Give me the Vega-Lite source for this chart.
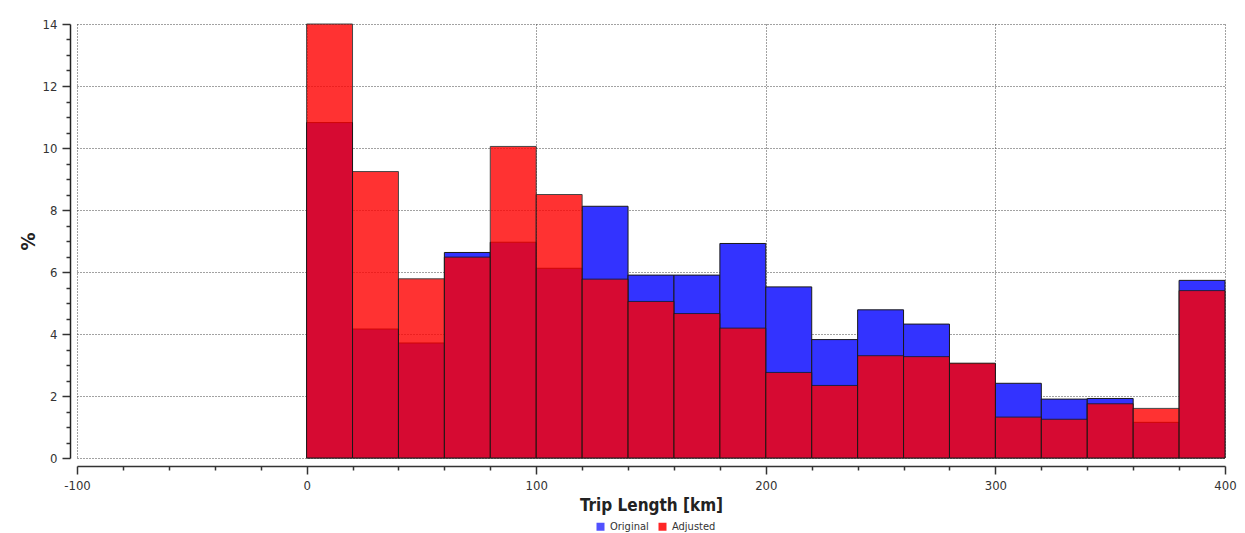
{
  "$schema": "https://vega.github.io/schema/vega-lite/v6.json",
  "width": 1148,
  "height": 434,
  "autosize": {"type": "none"},
  "padding": {"left": 77, "top": 24, "right": 20, "bottom": 75},
  "background": "white",
  "config": {"view": {"stroke": null}, "font": "DejaVu Sans Condensed, Liberation Sans, sans-serif"},
  "data": {"values": [
    {"start": 0, "end": 20, "series": "Original", "pct": 10.82},
    {"start": 20, "end": 40, "series": "Original", "pct": 4.16},
    {"start": 40, "end": 60, "series": "Original", "pct": 3.71},
    {"start": 60, "end": 80, "series": "Original", "pct": 6.63},
    {"start": 80, "end": 100, "series": "Original", "pct": 6.96},
    {"start": 100, "end": 120, "series": "Original", "pct": 6.12},
    {"start": 120, "end": 140, "series": "Original", "pct": 8.12},
    {"start": 140, "end": 160, "series": "Original", "pct": 5.9},
    {"start": 160, "end": 180, "series": "Original", "pct": 5.9},
    {"start": 180, "end": 200, "series": "Original", "pct": 6.92},
    {"start": 200, "end": 220, "series": "Original", "pct": 5.52},
    {"start": 220, "end": 240, "series": "Original", "pct": 3.82},
    {"start": 240, "end": 260, "series": "Original", "pct": 4.78},
    {"start": 260, "end": 280, "series": "Original", "pct": 4.32},
    {"start": 280, "end": 300, "series": "Original", "pct": 3.04},
    {"start": 300, "end": 320, "series": "Original", "pct": 2.41},
    {"start": 320, "end": 340, "series": "Original", "pct": 1.9},
    {"start": 340, "end": 360, "series": "Original", "pct": 1.92},
    {"start": 360, "end": 380, "series": "Original", "pct": 1.15},
    {"start": 380, "end": 400, "series": "Original", "pct": 5.73},
    {"start": 0, "end": 20, "series": "Adjusted", "pct": 14.0},
    {"start": 20, "end": 40, "series": "Adjusted", "pct": 9.24},
    {"start": 40, "end": 60, "series": "Adjusted", "pct": 5.78},
    {"start": 60, "end": 80, "series": "Adjusted", "pct": 6.48},
    {"start": 80, "end": 100, "series": "Adjusted", "pct": 10.05},
    {"start": 100, "end": 120, "series": "Adjusted", "pct": 8.5},
    {"start": 120, "end": 140, "series": "Adjusted", "pct": 5.77},
    {"start": 140, "end": 160, "series": "Adjusted", "pct": 5.05},
    {"start": 160, "end": 180, "series": "Adjusted", "pct": 4.66},
    {"start": 180, "end": 200, "series": "Adjusted", "pct": 4.19},
    {"start": 200, "end": 220, "series": "Adjusted", "pct": 2.76},
    {"start": 220, "end": 240, "series": "Adjusted", "pct": 2.34},
    {"start": 240, "end": 260, "series": "Adjusted", "pct": 3.3},
    {"start": 260, "end": 280, "series": "Adjusted", "pct": 3.27},
    {"start": 280, "end": 300, "series": "Adjusted", "pct": 3.06},
    {"start": 300, "end": 320, "series": "Adjusted", "pct": 1.32},
    {"start": 320, "end": 340, "series": "Adjusted", "pct": 1.25},
    {"start": 340, "end": 360, "series": "Adjusted", "pct": 1.75},
    {"start": 360, "end": 380, "series": "Adjusted", "pct": 1.6},
    {"start": 380, "end": 400, "series": "Adjusted", "pct": 5.4}
  ]},
  "encoding": {
    "x": {
      "field": "start", "type": "quantitative",
      "scale": {"domain": [-100, 400], "nice": false, "zero": false},
      "axis": {
        "values": [-100,-80,-60,-40,-20,0,20,40,60,80,100,120,140,160,180,200,220,240,260,280,300,320,340,360,380,400],
        "labelExpr": "datum.value % 100 === 0 ? '' + datum.value : ''",
        "tickSize": {"condition": {"test": "datum.value % 100 === 0", "value": 8}, "value": 4},
        "gridOpacity": {"condition": {"test": "datum.value % 100 === 0", "value": 1}, "value": 0},
        "grid": true, "gridColor": "#444", "gridDash": [1, 2],
        "offset": 8, "domainColor": "#333", "domainWidth": 1.5,
        "tickColor": "#333", "tickWidth": 1.5,
        "labelFontSize": 13, "labelColor": "#333", "labelPadding": 5, "labelFlush": false,
        "title": "Trip Length [km]", "titleFontSize": 17, "titleFontWeight": "bold",
        "titleColor": "#222", "titlePadding": 5
      }
    },
    "x2": {"field": "end"},
    "y": {
      "field": "pct", "type": "quantitative", "stack": null,
      "scale": {"domain": [0, 14], "nice": false},
      "axis": {
        "values": [0,0.5,1,1.5,2,2.5,3,3.5,4,4.5,5,5.5,6,6.5,7,7.5,8,8.5,9,9.5,10,10.5,11,11.5,12,12.5,13,13.5,14],
        "labelExpr": "datum.value % 2 === 0 ? '' + datum.value : ''",
        "tickSize": {"condition": {"test": "datum.value % 2 === 0", "value": 8}, "value": 4},
        "gridOpacity": {"condition": {"test": "datum.value % 2 === 0", "value": 1}, "value": 0},
        "grid": true, "gridColor": "#444", "gridDash": [1, 2],
        "offset": 7, "domainColor": "#222", "domainWidth": 1.5,
        "tickColor": "#333", "tickWidth": 1.5,
        "labelFontSize": 13, "labelColor": "#333", "labelPadding": 5,
        "title": "%", "titleFontSize": 20, "titleFontWeight": "bold",
        "titleColor": "#222", "titlePadding": 4
      }
    },
    "y2": {"datum": 0},
    "color": {
      "field": "series", "type": "nominal",
      "scale": {"domain": ["Original", "Adjusted"], "range": ["#3333ff", "#ff0000"]},
      "legend": {
        "title": null, "orient": "none", "legendX": 518, "legendY": 497,
        "direction": "horizontal", "symbolType": "square", "symbolSize": 64,
        "symbolStrokeWidth": 0, "symbolOpacity": 0.85,
        "labelFontSize": 11, "labelColor": "#333", "columnPadding": 8, "labelOffset": 4
      }
    }
  },
  "layer": [
    {
      "transform": [{"filter": "datum.series === 'Original'"}],
      "mark": {"type": "bar", "stroke": "#1a1a1a", "strokeWidth": 1, "opacity": 1}
    },
    {
      "transform": [{"filter": "datum.series === 'Adjusted'"}],
      "mark": {"type": "bar", "stroke": "#1a1a1a", "strokeWidth": 1, "opacity": 0.8}
    }
  ]
}
